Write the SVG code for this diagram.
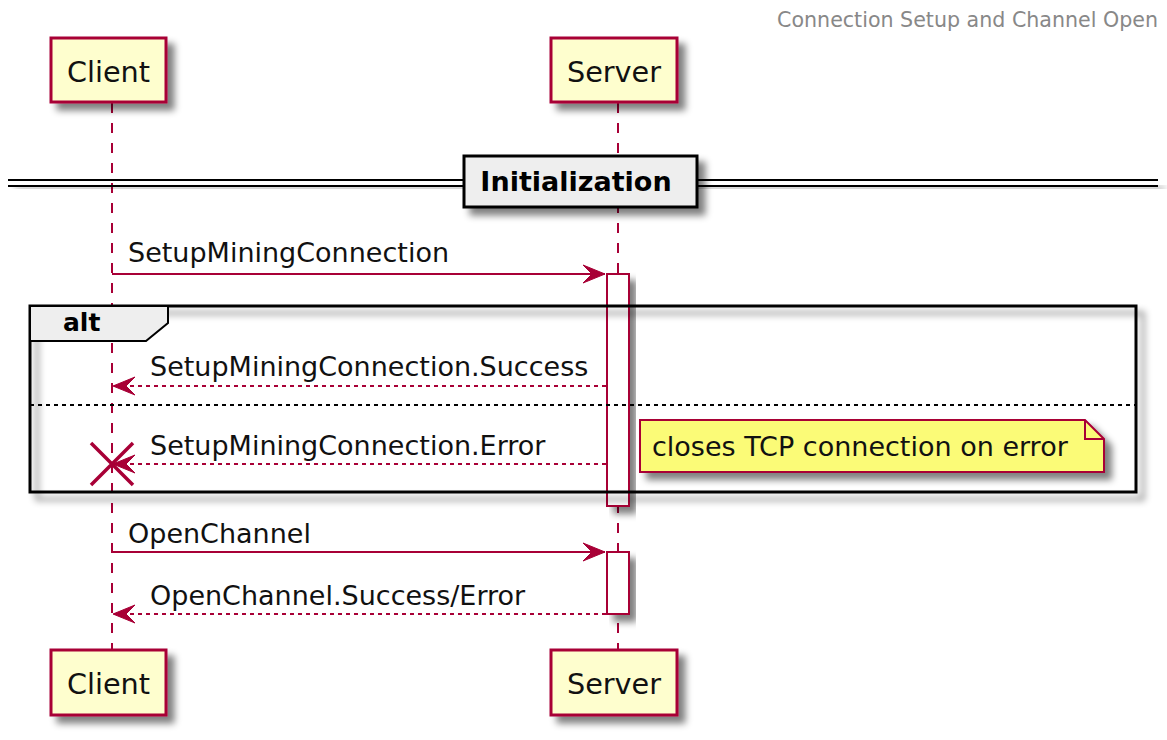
<svg xmlns="http://www.w3.org/2000/svg" width="1167" height="740" viewBox="0 0 1167 740">
<style>
text{font-family:"DejaVu Sans","Liberation Sans",sans-serif;}
.part{fill:#FEFECE;stroke:#A80036;stroke-width:3;}
.ptxt{font-size:28.7px;fill:#111;text-anchor:middle;}
.life{stroke:#A80036;stroke-width:2;stroke-dasharray:10,10;fill:none;}
.msg{stroke:#A80036;stroke-width:2;fill:none;}
.ret{stroke:#A80036;stroke-width:2;stroke-dasharray:4,4;fill:none;}
.mtxt{font-size:27px;fill:#111;}
.act{fill:#FFFFFF;stroke:#A80036;stroke-width:2;}
</style>
<defs>
<filter id="sh" x="-20%" y="-20%" width="150%" height="160%">
<feGaussianBlur in="SourceAlpha" stdDeviation="3.5"/>
<feOffset dx="7" dy="7"/>
<feComponentTransfer><feFuncA type="linear" slope="0.5"/></feComponentTransfer>
<feMerge><feMergeNode/><feMergeNode in="SourceGraphic"/></feMerge>
</filter>
<marker id="ah" markerUnits="userSpaceOnUse" viewBox="-25 -11 27 22" refX="0" refY="0" markerWidth="27" markerHeight="22" orient="auto">
<path d="M0,0 L-22,-9 L-13,0 L-22,9 Z" fill="#A80036" stroke="#A80036" stroke-width="1"/>
</marker>
</defs>
<rect width="1167" height="740" fill="#FFFFFF"/>
<text x="1158" y="27" font-size="20.6" fill="#888888" text-anchor="end">Connection Setup and Channel Open</text>

<g id="lifelines">
<line class="life" x1="112" y1="103" x2="112" y2="650"/>
<line class="life" x1="618" y1="103" x2="618" y2="650"/>
</g>

<g id="divider">
<g filter="url(#sh)">
<line x1="8" y1="180" x2="1158" y2="180" stroke="#000" stroke-width="2"/>
<line x1="8" y1="186" x2="1158" y2="186" stroke="#000" stroke-width="2"/>
</g>
<rect x="464" y="156" width="233" height="51" fill="#EEEEEE" stroke="#000" stroke-width="3" filter="url(#sh)"/>
<text x="576" y="191" font-size="27" font-weight="bold" text-anchor="middle">Initialization</text>
</g>

<g id="activations">
<rect class="act" x="607" y="274" width="22" height="232" filter="url(#sh)"/>
<rect class="act" x="607" y="552" width="22" height="62" filter="url(#sh)"/>
</g>

<g id="alt">
<rect x="30" y="306" width="1106" height="186" fill="none" stroke="#000" stroke-width="3" filter="url(#sh)"/>
<path d="M30,306 L168,306 L168,323 L146,341 L30,341 Z" fill="#EEEEEE" stroke="#000" stroke-width="2"/>
<text x="63" y="331" font-size="25" font-weight="bold">alt</text>
<line x1="30" y1="405" x2="1136" y2="405" stroke="#000" stroke-width="2" stroke-dasharray="4,4"/>
</g>

<g id="note">
<path d="M640,420 L1085,420 L1104,439 L1104,472 L640,472 Z" fill="#FBFB77" stroke="#A80036" stroke-width="2" filter="url(#sh)"/>
<path d="M1085,420 L1085,439 L1104,439" fill="none" stroke="#A80036" stroke-width="2"/>
<text class="mtxt" x="652" y="456">closes TCP connection on error</text>
</g>

<g id="connectors">
<line class="msg" x1="112" y1="274" x2="605" y2="274" marker-end="url(#ah)"/>
<text class="mtxt" x="128" y="262">SetupMiningConnection</text>
<line class="ret" x1="606" y1="386" x2="113" y2="386" marker-end="url(#ah)"/>
<text class="mtxt" x="150" y="376">SetupMiningConnection.Success</text>
<line class="ret" x1="606" y1="464" x2="113" y2="464" marker-end="url(#ah)"/>
<text class="mtxt" x="150" y="455">SetupMiningConnection.Error</text>
<path d="M91,443 L133,485 M133,443 L91,485" stroke="#A80036" stroke-width="3.5" fill="none"/>
<line class="msg" x1="112" y1="552" x2="605" y2="552" marker-end="url(#ah)"/>
<text class="mtxt" x="128" y="543">OpenChannel</text>
<line class="ret" x1="606" y1="614" x2="113" y2="614" marker-end="url(#ah)"/>
<text class="mtxt" x="150" y="605">OpenChannel.Success/Error</text>
</g>

<g id="client-top">
<rect class="part" x="51" y="38" width="115" height="64" filter="url(#sh)"/>
<text class="ptxt" x="108.5" y="82">Client</text>
</g>
<g id="server-top">
<rect class="part" x="551" y="38" width="126" height="64" filter="url(#sh)"/>
<text class="ptxt" x="614" y="82">Server</text>
</g>
<g id="client-bottom">
<rect class="part" x="51" y="650" width="115" height="65" filter="url(#sh)"/>
<text class="ptxt" x="108.5" y="694">Client</text>
</g>
<g id="server-bottom">
<rect class="part" x="551" y="650" width="126" height="65" filter="url(#sh)"/>
<text class="ptxt" x="614" y="694">Server</text>
</g>
</svg>
